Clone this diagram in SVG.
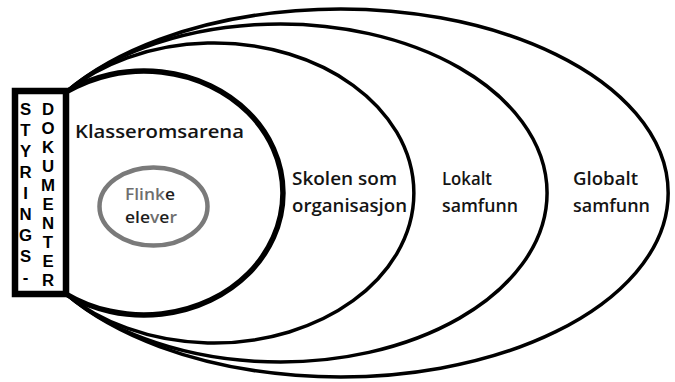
<svg xmlns="http://www.w3.org/2000/svg" width="675" height="382" viewBox="0 0 675 382">
<style>
.arc{fill:none;stroke:#000;stroke-width:3.5}
.arc1{fill:none;stroke:#000;stroke-width:5.5}
.lbl{font-family:"Open Sans","Noto Sans",sans-serif;font-weight:600;font-size:17.5px;fill:#141414}
.vert{font-family:"Liberation Sans","Arial",sans-serif;font-weight:700;font-size:16.8px;fill:#000;text-anchor:middle}
.fl{font-family:"Open Sans","Noto Sans",sans-serif;font-weight:600;font-size:16.5px}
.g{fill:#6e6e6e}
.d{fill:#1e1e1e}
</style>
<rect width="675" height="382" fill="#fff"/>
<g id="connectors">
<path id="globalt-arc" class="arc" d="M66 92 A328 184 0 1 1 66 294"/>
<path id="lokalt-arc" class="arc" d="M66 92 A267 169 0 1 1 66 294"/>
<path id="skolen-arc" class="arc" d="M66 92 A200 150 0 1 1 66 294"/>
<path id="klasserom-arc" class="arc1" d="M66 92 A139 122 0 1 1 66 294"/>
</g>
<g id="styringsdokumenter">
<rect x="15" y="91" width="51" height="203" fill="#fff" stroke="#000" stroke-width="6.5"/>
<text class="vert" x="25.5" y="115">S</text>
<text class="vert" x="25.5" y="136">T</text>
<text class="vert" x="25.5" y="157">Y</text>
<text class="vert" x="25.5" y="178">R</text>
<text class="vert" x="25.5" y="199">I</text>
<text class="vert" x="25.5" y="220">N</text>
<text class="vert" x="25.5" y="241">G</text>
<text class="vert" x="25.5" y="262">S</text>
<text class="vert" x="25.5" y="283">-</text>
<text class="vert" x="48" y="115">D</text>
<text class="vert" x="48" y="134">O</text>
<text class="vert" x="48" y="153">K</text>
<text class="vert" x="48" y="172">U</text>
<text class="vert" x="48" y="191">M</text>
<text class="vert" x="48" y="210">E</text>
<text class="vert" x="48" y="229">N</text>
<text class="vert" x="48" y="248">T</text>
<text class="vert" x="48" y="267">E</text>
<text class="vert" x="48" y="286">R</text>
</g>
<g id="klasseromsarena">
<text class="lbl" x="75" y="138" textLength="169" lengthAdjust="spacingAndGlyphs">Klasseromsarena</text>
</g>
<g id="flinke-elever">
<ellipse cx="153.5" cy="206.5" rx="54" ry="39" fill="none" stroke="#7a7a7a" stroke-width="4.5"/>
<text class="fl" x="125" y="200" textLength="50" lengthAdjust="spacingAndGlyphs"><tspan class="g">Flink</tspan><tspan class="d">e</tspan></text>
<text class="fl" x="125" y="223" textLength="52" lengthAdjust="spacingAndGlyphs"><tspan class="d">ele</tspan><tspan class="g">v</tspan><tspan class="d">e</tspan><tspan class="g">r</tspan></text>
</g>
<g id="skolen">
<text class="lbl" x="292" y="185" textLength="105" lengthAdjust="spacingAndGlyphs">Skolen som</text>
<text class="lbl" x="292" y="212" textLength="115" lengthAdjust="spacingAndGlyphs">organisasjon</text>
</g>
<g id="lokalt">
<text class="lbl" x="442" y="185" textLength="50" lengthAdjust="spacingAndGlyphs">Lokalt</text>
<text class="lbl" x="442" y="212" textLength="76" lengthAdjust="spacingAndGlyphs">samfunn</text>
</g>
<g id="globalt">
<text class="lbl" x="573" y="185" textLength="65" lengthAdjust="spacingAndGlyphs">Globalt</text>
<text class="lbl" x="573" y="212" textLength="77" lengthAdjust="spacingAndGlyphs">samfunn</text>
</g>
</svg>
